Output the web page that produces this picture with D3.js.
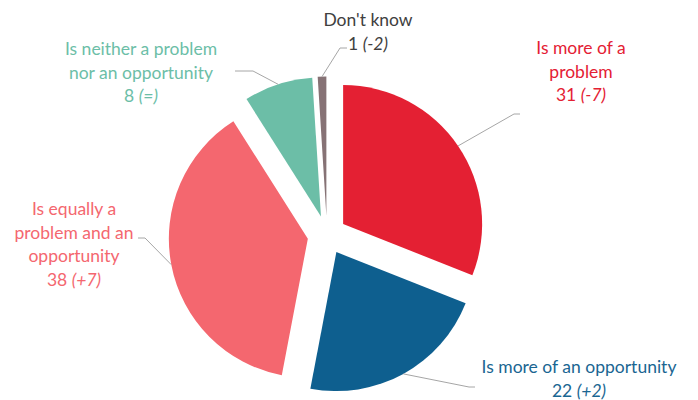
<!DOCTYPE html>
<html>
<head>
<meta charset="utf-8">
<script src="https://cdn.jsdelivr.net/npm/d3@7"></script>
<style>
  body { margin: 0; background: #fff; }
  text { font-family: Lato, "Open Sans", sans-serif; font-size: 17.5px; }
</style>
</head>
<body>
<svg width="698" height="400"></svg>
<script>
// Data
var categories = ["Is more of a problem", "Is more of an opportunity",
  "Is equally a problem and an opportunity", "Is neither a problem nor an opportunity", "Don't know"];
var values = [31, 22, 38, 8, 1];
var changes = ["(-7)", "(+2)", "(+7)", "(=)", "(-2)"];
var labelLines = [
  ["Is more of a", "problem"],
  ["Is more of an opportunity"],
  ["Is equally a", "problem and an", "opportunity"],
  ["Is neither a problem", "nor an opportunity"],
  ["Don't know"]
];
var colors = ["#e42033", "#0e5f8f", "#f4676f", "#6cbea7", "#867275"];
var textColors = ["#e42033", "#1a6692", "#f4676f", "#6cbea7", "#404040"];

// Layout
var svg = d3.select("svg");
var cx = 327, cy = 235, radius = 139, explode = 19.5;

// label centre x, first line y, leader elbow and end
var labelPos = [
  { x: 581, y: 54, elbow: [514, 114], end: [520, 114] },
  { x: 579, y: 373, elbow: [469, 387], end: [475, 387] },
  { x: 74, y: 215, elbow: [145, 238], end: [138, 238] },
  { x: 141, y: 55, elbow: [253, 71], end: [235, 71] },
  { x: 368, y: 26, elbow: [340, 48], end: [347, 48] }
];

var pie = d3.pie().sort(null).value(function(d) { return d; });
var arcs = pie(values);
var arc = d3.arc().innerRadius(0).outerRadius(radius);

function dir(a) { return [Math.sin(a), -Math.cos(a)]; }

var g = svg.append("g").attr("transform", "translate(" + cx + "," + cy + ")");

g.selectAll("path")
  .data(arcs)
  .enter()
  .append("path")
    .attr("d", arc)
    .attr("fill", function(d, i) { return colors[i]; })
    .attr("transform", function(d) {
      var m = dir((d.startAngle + d.endAngle) / 2);
      return "translate(" + m[0] * explode + "," + m[1] * explode + ")";
    });

// leader lines
arcs.forEach(function(d, i) {
  var mid = (d.startAngle + d.endAngle) / 2;
  var m = dir(mid);
  var start = [cx + m[0] * (explode + radius), cy + m[1] * (explode + radius)];
  var p = labelPos[i];
  svg.append("polyline")
    .attr("points", [start, p.elbow, p.end].map(function(q) { return q.join(","); }).join(" "))
    .attr("fill", "none")
    .attr("stroke", "#a6a6a6")
    .attr("stroke-width", 1);
});

// labels
arcs.forEach(function(d, i) {
  var p = labelPos[i];
  var t = svg.append("text")
    .attr("text-anchor", "middle")
    .attr("fill", textColors[i]);
  labelLines[i].forEach(function(line, k) {
    t.append("tspan").attr("x", p.x).attr("y", p.y + k * 23.5).text(line);
  });
  var last = t.append("tspan").attr("x", p.x).attr("y", p.y + labelLines[i].length * 23.5);
  last.append("tspan").text(values[i] + " ");
  last.append("tspan").attr("font-style", "italic").text(changes[i]);
});
</script>
</body>
</html>
